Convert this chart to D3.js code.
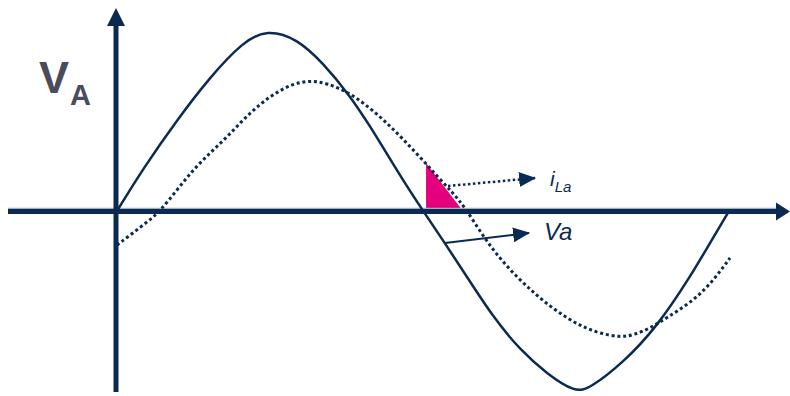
<!DOCTYPE html>
<html>
<head>
<meta charset="utf-8">
<script src="https://cdn.jsdelivr.net/npm/d3@7"></script>
<style>
  body { margin: 0; background: #fff; }
  svg { display: block; font-family: "Liberation Sans", Arial, sans-serif; }
</style>
</head>
<body>
<svg id="chart" width="790" height="396"></svg>
<script>
// phase angle in degrees, value relative to the voltage peak
var voltageDeg = [0, 15.3, 35.3, 54.7, 74.1, 88.2, 105.9, 121.2, 137.1, 148.8, 158.8, 168.2, 180,
  192.9, 205.9, 221.2, 237.1, 252.9, 269.4, 278.2, 297.6, 317.6, 337.1, 348.8, 360];
var voltageVal = [0, 0.235, 0.506, 0.744, 0.94, 1.008, 0.958, 0.822, 0.64, 0.472, 0.317, 0.172, 0,
  -0.178, -0.367, -0.589, -0.772, -0.905, -1.008, -0.985, -0.844, -0.644, -0.367, -0.178, 0];

var currentDeg = [0, 19.4, 25.3, 35.3, 44.7, 54.7, 64.7, 74.1, 84.1, 94.1, 103.5, 113.5, 123.5,
  137.1, 148.8, 158.8, 168.2, 178.2, 188.2, 197.6, 204.7, 215.3, 225.3, 235.3, 244.7, 254.7,
  264.7, 274.1, 284.1, 295.9, 303.5, 313.5, 323.5, 337.1, 348.8, 360.6];
var currentVal = [-0.189, -0.05, 0, 0.117, 0.228, 0.322, 0.411, 0.506, 0.595, 0.661, 0.706, 0.725, 0.711,
  0.655, 0.572, 0.489, 0.4, 0.3, 0.195, 0.1, 0.02, -0.14, -0.265, -0.367, -0.45, -0.53,
  -0.594, -0.645, -0.68, -0.702, -0.69, -0.652, -0.592, -0.511, -0.411, -0.261];

// shaded phase-lag wedge
var wedgeDeg = [181.8, 181.8, 203.5];
var wedgeVal = [0.267, 0, 0];

// callout arrows [from, to]
var currentCallout = [[194.7, 0.139], [245.9, 0.183]];
var voltageCallout = [[192.9, -0.178], [242.4, -0.122]];

var navy = "#0b2a52",
  magenta = "#e4007c",
  grey = "#4b4b59";

var svg = d3.select("#chart");

var x = d3.scaleLinear().domain([0, 360]).range([117, 729]);
var y = d3.scaleLinear().domain([-1, 1]).range([391, 31]);

var zip = function (xs, ys) {
  return xs.map(function (d, i) {
    return [d, ys[i]];
  });
};

var line = d3
  .line()
  .x(function (d) {
    return x(d[0]);
  })
  .y(function (d) {
    return y(d[1]);
  })
  .curve(d3.curveBasis);

// arrow heads
var defs = svg.append("defs");
defs
  .append("marker")
  .attr("id", "head")
  .attr("markerUnits", "userSpaceOnUse")
  .attr("viewBox", "0 0 17 15")
  .attr("refX", 16)
  .attr("refY", 7.5)
  .attr("markerWidth", 17)
  .attr("markerHeight", 15)
  .attr("orient", "auto")
  .append("path")
  .attr("d", "M0,0L17,7.5L0,15Z")
  .attr("fill", navy);

// wedge
svg
  .append("path")
  .attr("d", d3.line()(zip(wedgeDeg, wedgeVal).map(function (d) {
    return [x(d[0]), y(d[1])];
  })) + "Z")
  .attr("fill", magenta);

// axes
var x0 = x(0), y0 = y(0);
svg.append("line")
  .attr("x1", 8).attr("x2", 778)
  .attr("y1", y0 - 2.5).attr("y2", y0 - 2.5)
  .attr("stroke", "#9fb0c6").attr("stroke-width", 1.5);
svg.append("line")
  .attr("x1", 8).attr("x2", 778)
  .attr("y1", y0 + 0.5).attr("y2", y0 + 0.5)
  .attr("stroke", navy).attr("stroke-width", 5);
svg.append("path")
  .attr("d", "M776," + (y0 - 8.5) + "L790," + (y0 + 0.5) + "L776," + (y0 + 9.5) + "Z")
  .attr("fill", navy);

svg.append("line")
  .attr("x1", x0 - 1).attr("x2", x0 - 1)
  .attr("y1", 392).attr("y2", 24)
  .attr("stroke", navy).attr("stroke-width", 5);
svg.append("path")
  .attr("d", "M" + (x0 - 10) + ",26L" + (x0 - 1) + ",8L" + (x0 + 8) + ",26Z")
  .attr("fill", navy);

// voltage (solid) and current (dotted)
svg.append("path")
  .attr("d", line(zip(voltageDeg, voltageVal)))
  .attr("fill", "none")
  .attr("stroke", navy)
  .attr("stroke-width", 2.5);

svg.append("path")
  .attr("d", line(zip(currentDeg, currentVal)))
  .attr("fill", "none")
  .attr("stroke", navy)
  .attr("stroke-width", 3)
  .attr("stroke-dasharray", "3 2.8");

// callouts
var straight = d3
  .line()
  .x(function (d) {
    return x(d[0]);
  })
  .y(function (d) {
    return y(d[1]);
  });

svg.append("path")
  .attr("d", straight(currentCallout))
  .attr("fill", "none")
  .attr("stroke", navy)
  .attr("stroke-width", 2.5)
  .attr("stroke-dasharray", "2.5 2.5")
  .attr("marker-end", "url(#head)");

svg.append("path")
  .attr("d", straight(voltageCallout))
  .attr("fill", "none")
  .attr("stroke", navy)
  .attr("stroke-width", 2)
  .attr("marker-end", "url(#head)");

// labels
var iLabel = svg.append("text")
  .attr("x", 550)
  .attr("y", 186)
  .attr("fill", navy)
  .attr("font-style", "italic")
  .attr("font-size", 21);
iLabel.append("tspan").text("i");
iLabel.append("tspan").attr("font-size", 15).attr("dy", 6).text("La");

svg.append("text")
  .attr("x", 544)
  .attr("y", 240)
  .attr("fill", navy)
  .attr("font-style", "italic")
  .attr("font-size", 24)
  .text("Va");

var vLabel = svg.append("text")
  .attr("x", 39)
  .attr("y", 93)
  .attr("fill", grey)
  .attr("font-weight", "bold")
  .attr("font-size", 45);
vLabel.append("tspan").text("V");
vLabel.append("tspan").attr("font-size", 29).attr("dy", 12).attr("dx", 1).text("A");
</script>
</body>
</html>
